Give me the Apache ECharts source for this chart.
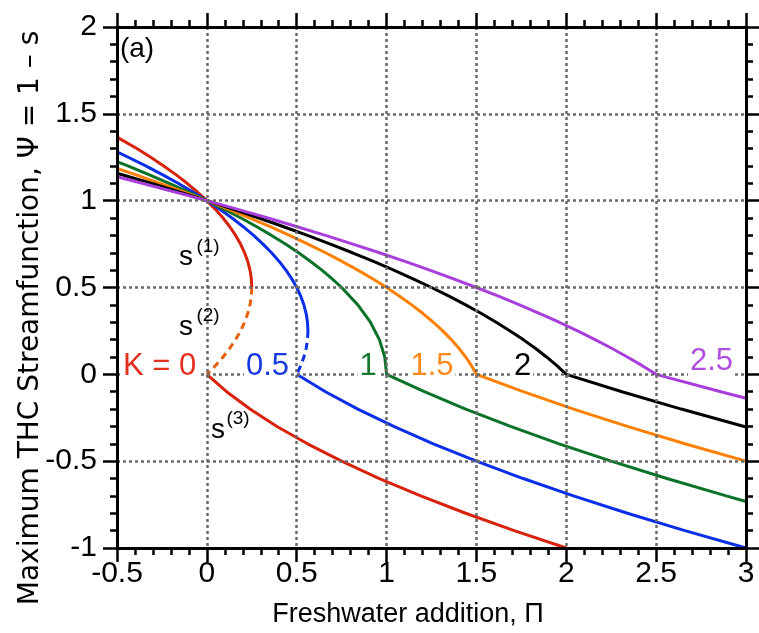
<!DOCTYPE html>
<html><head><meta charset="utf-8">
<script src="https://cdn.jsdelivr.net/npm/echarts@6/dist/echarts.min.js"></script>
<style>html,body{margin:0;padding:0;background:#fff}#c{width:759px;height:633px}</style>
</head><body><div id="c"></div>
<script>
// [Pi, Psi] pairs
const k0Upper = [[-0.5,1.366],[-0.39,1.3],[-0.3125,1.25],[-0.24,1.2],[-0.1725,1.15],[-0.11,1.1],[-0.0525,1.05],[0,1],[0.0475,0.95],[0.09,0.9],[0.1275,0.85],[0.16,0.8],[0.1875,0.75],[0.21,0.7],[0.2275,0.65],[0.24,0.6],[0.2475,0.55],[0.25,0.5]];
const k0Middle = [[0.25,0.5],[0.2475,0.45],[0.24,0.4],[0.2275,0.35],[0.21,0.3],[0.1875,0.25],[0.16,0.2],[0.1275,0.15],[0.09,0.1],[0.0475,0.05],[0,0]];
const k0Lower = [[0,0],[0.11,-0.1],[0.24,-0.2],[0.39,-0.3],[0.56,-0.4],[0.75,-0.5],[0.96,-0.6],[1.19,-0.7],[1.44,-0.8],[1.71,-0.9],[2.0,-1.0]];
const k05Upper = [[-0.5,1.281],[-0.4375,1.25],[-0.34,1.2],[-0.2475,1.15],[-0.16,1.1],[-0.0775,1.05],[0,1],[0.0725,0.95],[0.14,0.9],[0.2025,0.85],[0.26,0.8],[0.3125,0.75],[0.36,0.7],[0.4025,0.65],[0.44,0.6],[0.4725,0.55],[0.5,0.5],[0.5225,0.45],[0.54,0.4],[0.5525,0.35],[0.56,0.3],[0.5625,0.25]];
const k05Middle = [[0.5625,0.25],[0.56,0.2],[0.5525,0.15],[0.54,0.1],[0.5225,0.05],[0.5,0]];
const k05Lower = [[0.5,0],[0.66,-0.1],[0.84,-0.2],[1.04,-0.3],[1.26,-0.4],[1.5,-0.5],[1.76,-0.6],[2.04,-0.7],[2.34,-0.8],[2.66,-0.9],[3.0,-1.0]];
const k1Curve = [[-0.5,1.225],[-0.44,1.2],[-0.3225,1.15],[-0.21,1.1],[-0.1025,1.05],[0,1],[0.0975,0.95],[0.19,0.9],[0.2775,0.85],[0.36,0.8],[0.4375,0.75],[0.51,0.7],[0.5775,0.65],[0.64,0.6],[0.6975,0.55],[0.75,0.5],[0.84,0.4],[0.91,0.3],[0.96,0.2],[0.99,0.1],[1.0,0],[1.21,-0.1],[1.44,-0.2],[1.69,-0.3],[1.96,-0.4],[2.25,-0.5],[2.56,-0.6],[2.89,-0.7],[3.0,-0.732]];
const k15Curve = [[-0.5,1.186],[-0.3975,1.15],[-0.26,1.1],[-0.1275,1.05],[0,1],[0.1225,0.95],[0.24,0.9],[0.3525,0.85],[0.46,0.8],[0.5625,0.75],[0.66,0.7],[0.7525,0.65],[0.84,0.6],[0.9225,0.55],[1.0,0.5],[1.0725,0.45],[1.14,0.4],[1.2025,0.35],[1.26,0.3],[1.3125,0.25],[1.36,0.2],[1.4025,0.15],[1.44,0.1],[1.4725,0.05],[1.5,0],[1.76,-0.1],[2.04,-0.2],[2.34,-0.3],[2.66,-0.4],[3.0,-0.5]];
const k2Curve = [[-0.5,1.158],[-0.31,1.1],[-0.1525,1.05],[0,1],[0.1475,0.95],[0.29,0.9],[0.4275,0.85],[0.56,0.8],[0.6875,0.75],[0.81,0.7],[0.9275,0.65],[1.04,0.6],[1.1475,0.55],[1.25,0.5],[1.3475,0.45],[1.44,0.4],[1.5275,0.35],[1.61,0.3],[1.6875,0.25],[1.76,0.2],[1.8275,0.15],[1.89,0.1],[1.9475,0.05],[2.0,0],[2.31,-0.1],[2.64,-0.2],[3.0,-0.303]];
const k25Curve = [[-0.5,1.1375],[-0.36,1.1],[-0.1775,1.05],[0,1],[0.1725,0.95],[0.34,0.9],[0.5025,0.85],[0.66,0.8],[0.8125,0.75],[0.96,0.7],[1.1025,0.65],[1.24,0.6],[1.3725,0.55],[1.5,0.5],[1.6225,0.45],[1.74,0.4],[1.8525,0.35],[1.96,0.3],[2.0625,0.25],[2.16,0.2],[2.2525,0.15],[2.34,0.1],[2.4225,0.05],[2.5,0],[2.86,-0.1],[3.0,-0.1375]];
const kLabels = ['K = 0','0.5','1','1.5','2','2.5'];
const xRange = [-0.5, 3];
const yRange = [-1, 2];
const tickStep = 0.5;

const RED='#d8230c', RED2='#e8600e', BLUE='#0b2ee8', GREEN='#0a7229', ORANGE='#ff8000', BLACK='#000000', PURPLE='#a83fdc';
const FONT='Liberation Sans, Arial, sans-serif';
const WIDE='DejaVu Sans, Verdana, sans-serif';

function line(data, color, dashed){
  return {type:'line', data:data, showSymbol:false, symbol:'none', smooth:false, clip:true,
    lineStyle:{color:color, width:3, type: dashed?[7,5]:'solid'}, z:3, animation:false};
}
function txt(x,y,text,color,size,extra,fam){
  return Object.assign({type:'text', x:x, y:y, z:50, style:{text:text, fill:color, font: size+'px '+(fam||FONT),
    align:'center', verticalAlign:'middle', textAlign:'center', textVerticalAlign:'middle'}}, extra||{});
}
function labelTxt(x,y,text,color){
  return {type:'text', x:x, y:y, z:50, style:{text:text, fill:color, font:'31px '+FONT, align:'center', verticalAlign:'middle',
    textAlign:'center', textVerticalAlign:'middle', backgroundColor:'#fff', padding:[0,2]}};
}
function axisStyle(extra){
  return Object.assign({type:'value', z:10,
     axisLine:{show:true, onZero:false, lineStyle:{color:'#000', width:3}},
     axisTick:{show:true, inside:false, length:14, lineStyle:{color:'#000', width:2.5}},
     minorTick:{show:true, splitNumber:5, length:7, lineStyle:{color:'#000', width:2.5}}}, extra);
}
const gridLine = {show:true, showMinLine:false, showMaxLine:false, lineStyle:{color:'#6a6a6a', width:2.5, type:[3,3]}};

const chart = echarts.init(document.getElementById('c'), null, {renderer:'canvas'});
chart.setOption({
  animation:false,
  backgroundColor:'#fff',
  grid:{left:117, right:13, top:27, bottom:85, containLabel:false},
  xAxis:[
    axisStyle({min:xRange[0], max:xRange[1], interval:tickStep, position:'bottom',
      axisLabel:{show:true, margin:11, color:'#000', fontSize:30, fontFamily:FONT, formatter:v=>String(v)},
      splitLine:gridLine}),
    axisStyle({min:xRange[0], max:xRange[1], interval:tickStep, position:'top',
      axisLabel:{show:false}, splitLine:{show:false}})
  ],
  yAxis:[
    axisStyle({min:yRange[0], max:yRange[1], interval:tickStep, position:'left',
      axisLabel:{show:true, margin:20, color:'#000', fontSize:30, fontFamily:FONT, formatter:v=>String(v)},
      splitLine:gridLine}),
    axisStyle({min:yRange[0], max:yRange[1], interval:tickStep, position:'right',
      axisLabel:{show:false}, splitLine:{show:false}})
  ],
  series:[
    line(k0Upper, RED), line(k0Middle, RED2, true), line(k0Lower, RED),
    line(k05Upper, BLUE), line(k05Middle, BLUE, true), line(k05Lower, BLUE),
    line(k1Curve, GREEN), line(k15Curve, ORANGE), line(k2Curve, BLACK), line(k25Curve, PURPLE)
  ],
  graphic:[
    txt(137,49,'(a)','#000',28),
    txt(186,257,'s','#000',28), txt(208,247,'(1)','#000',19),
    txt(186,327,'s','#000',28), txt(208,316,'(2)','#000',19),
    txt(218,430,'s','#000',28), txt(238,419,'(3)','#000',19),
    labelTxt(159.5,366,kLabels[0],'#e3301c'),
    labelTxt(267.5,366,kLabels[1],'#1737e0'),
    labelTxt(368,366,kLabels[2],'#17782e'),
    labelTxt(432,366,kLabels[3],'#ff8a1a'),
    labelTxt(522.5,366,kLabels[4],'#000'),
    labelTxt(711.5,361,kLabels[5],'#b04ee0'),
    txt(408,615,'Freshwater addition, \u03A0','#000',27),
    txt(31,318,'Maximum THC Streamfunction, \u03A8 = 1 \u2013 s','#000',28,{rotation:Math.PI/2},WIDE)
  ]
});
</script></body></html>
